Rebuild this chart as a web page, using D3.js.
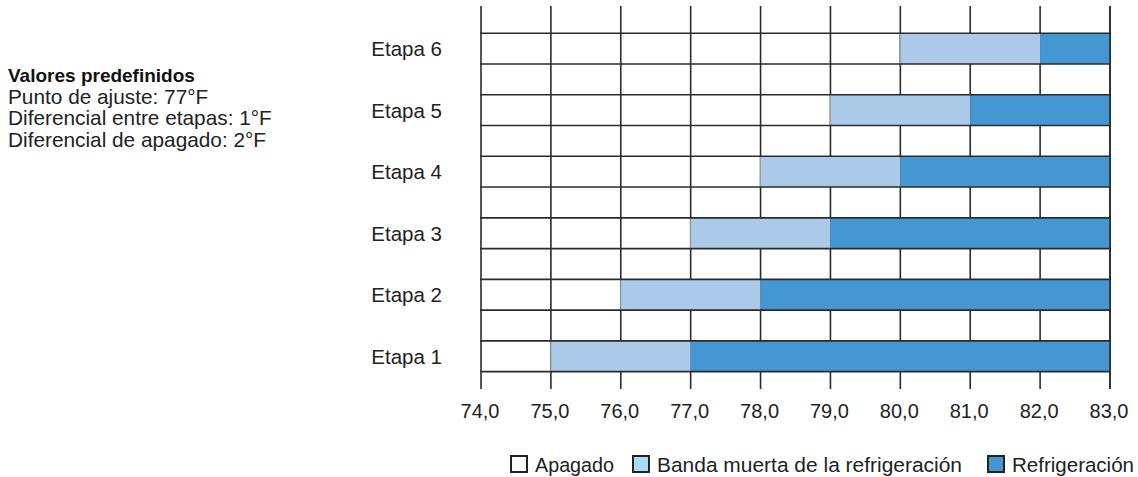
<!DOCTYPE html>
<html><head><meta charset="utf-8">
<script src="https://cdn.jsdelivr.net/npm/d3@7"></script>
<style>
html,body{margin:0;padding:0;background:#fff;}
svg{display:block;font-family:"Liberation Sans",Arial,sans-serif;}
</style></head>
<body>
<svg id="chart" width="1138" height="477"></svg>
<script>
// ---- data ----
const stages = ["Etapa 6","Etapa 5","Etapa 4","Etapa 3","Etapa 2","Etapa 1"];
const deadbandStart = [80, 79, 78, 77, 76, 75];
const coolingStart  = [82, 81, 80, 79, 78, 77];
const coolingEnd    = [83, 83, 83, 83, 83, 83];
const xDomain = [74, 83];
const xTicks = [74, 75, 76, 77, 78, 79, 80, 81, 82, 83];
const infoTitle = "Valores predefinidos";
const infoLines = ["Punto de ajuste: 77°F", "Diferencial entre etapas: 1°F", "Diferencial de apagado: 2°F"];
const legendLabels = ["Apagado", "Banda muerta de la refrigeración", "Refrigeración"];
const legendColors = ["#ffffff", "#aadcf7", "#4597d4"];

// ---- layout / style ----
const COL_DEAD = "#abc9e8", COL_COOL = "#4597d4", GRID = "#2b2b2b";
const legX = [510, 632, 987];
const legTextLen = [79, 305, 122];

const svg = d3.select("#chart");
const x = d3.scaleLinear().domain(xDomain).range([481, 1110]);
const y = d3.scaleBand().domain(stages).range([33.3, 371.6]).paddingInner(0.5).paddingOuter(0);

// vertical grid lines (under bars)
svg.append("g").selectAll("line").data(xTicks).join("line")
  .attr("x1", d => x(d)).attr("x2", d => x(d))
  .attr("y1", 6).attr("y2", 389)
  .attr("stroke", GRID).attr("stroke-width", 1.6);

// bars
const rows = stages.map((s, i) => ({s, d0: deadbandStart[i], c0: coolingStart[i], c1: coolingEnd[i]}));
const g = svg.append("g");
g.selectAll("rect.dead").data(rows).join("rect").attr("class","dead")
  .attr("x", d => x(d.d0)).attr("width", d => x(d.c0) - x(d.d0))
  .attr("y", d => y(d.s)).attr("height", y.bandwidth())
  .attr("fill", COL_DEAD);
g.selectAll("rect.cool").data(rows).join("rect").attr("class","cool")
  .attr("x", d => x(d.c0)).attr("width", d => x(d.c1) - x(d.c0))
  .attr("y", d => y(d.s)).attr("height", y.bandwidth())
  .attr("fill", COL_COOL);
g.selectAll("line.edge").data(rows).join("line").attr("class","edge")
  .attr("x1", d => x(d.d0)).attr("x2", d => x(d.d0))
  .attr("y1", d => y(d.s)).attr("y2", d => y(d.s) + y.bandwidth())
  .attr("stroke", "#9aa4ae").attr("stroke-width", 1);

// horizontal lines at band edges
const hy = [];
stages.forEach(s => { hy.push(y(s)); hy.push(y(s) + y.bandwidth()); });
svg.append("g").selectAll("line").data(hy).join("line")
  .attr("x1", x(xDomain[0]) - 0.8).attr("x2", x(xDomain[1]) + 0.8)
  .attr("y1", d => d).attr("y2", d => d)
  .attr("stroke", GRID).attr("stroke-width", 1.6);
svg.append("line").attr("x1", x(xDomain[1])).attr("x2", x(xDomain[1]))
  .attr("y1", 6).attr("y2", 389).attr("stroke", GRID).attr("stroke-width", 1.6);

// x tick labels
const fmt = d => d3.format(".1f")(d).replace(".", ",");
svg.append("g").selectAll("text").data(xTicks).join("text")
  .attr("x", d => x(d) - 1).attr("y", 418)
  .attr("text-anchor", "middle").attr("font-size", 20).attr("fill", "#222")
  .text(fmt);

// y labels
svg.append("g").selectAll("text").data(stages).join("text")
  .attr("x", 442).attr("y", d => y(d) + y.bandwidth()/2 + 7.5)
  .attr("text-anchor", "end").attr("font-size", 20.5).attr("fill", "#222")
  .text(d => d);

// info text
svg.append("text").attr("x", 8).attr("y", 82).attr("font-size", 19).attr("font-weight", "bold")
  .attr("fill", "#111").text(infoTitle);
svg.append("g").selectAll("text").data(infoLines).join("text")
  .attr("x", 8).attr("y", (d, i) => 103.5 + i * 21.6)
  .attr("font-size", 20.8).attr("fill", "#222").text(d => d);

// legend
const lg = svg.append("g");
legendLabels.forEach((lab, i) => {
  lg.append("rect").attr("x", legX[i] + 1).attr("y", 456).attr("width", 16).attr("height", 16)
    .attr("fill", legendColors[i]).attr("stroke", "#222").attr("stroke-width", 2);
  lg.append("text").attr("x", legX[i] + 25).attr("y", 471.5)
    .attr("font-size", 20.5).attr("fill", "#222")
    .attr("textLength", legTextLen[i]).attr("lengthAdjust", "spacingAndGlyphs")
    .text(lab);
});
</script>
</body></html>
